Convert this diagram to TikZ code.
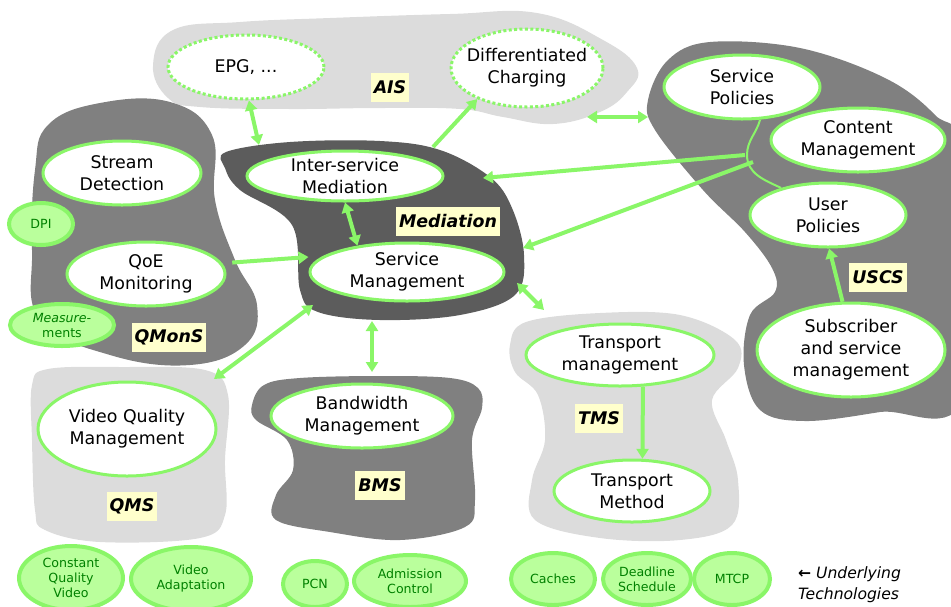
\documentclass[tikz,border=0pt]{standalone}
\usepackage{fontspec}
\setmainfont{DejaVu Sans}
\usetikzlibrary{arrows.meta,shapes.geometric}
\definecolor{lime}{RGB}{138,246,104}
\definecolor{limefill}{RGB}{186,255,156}
\definecolor{limetext}{RGB}{0,128,0}
\definecolor{grlight}{RGB}{220,220,220}
\definecolor{grmid}{RGB}{128,128,128}
\definecolor{grdark}{RGB}{92,92,92}
\definecolor{tagbg}{RGB}{255,255,204}

\begin{document}
\begin{tikzpicture}[x=0.5pt,y=-0.5pt,>={Triangle[length=5pt,width=6pt]},
  every node/.style={font=\fontsize{8.7}{11}\selectfont,align=center},
  fn/.style={ellipse,draw=lime,line width=1.5pt,fill=white,inner sep=-4pt},
  dt/.style={fn,dash pattern=on 1.5pt off 1.2pt},
  tc/.style={ellipse,draw=lime,line width=2pt,fill=limefill,inner sep=-4pt,
    text=limetext,font=\fontsize{6.3}{7.5}\selectfont},
  tg/.style={fill=tagbg,inner xsep=1.5pt,minimum height=14.5pt,
    font=\fontsize{8.7}{11}\selectfont\bfseries\itshape},
  ar/.style={draw=lime,line width=2pt,->},
  bi/.style={ar,<->},
  ln/.style={draw=lime,line width=1pt}]
\useasboundingbox (0,0) rectangle (951,606);
\clip (0,0) rectangle (951,606);

% subsystem areas
\fill[grlight] plot[smooth cycle,tension=0.7] coordinates {(153,65) (173,30)
  (240,22) (330,18) (450,14) (537,13) (603,40) (637,68) (627,92) (600,112)
  (553,124) (503,117) (460,109) (380,108) (290,109) (200,107) (168,98)};
\fill[grmid] plot[smooth cycle,tension=0.7] coordinates {(35,170) (48,125)
  (100,103) (170,102) (212,135) (215,200) (235,260) (257,305) (245,345)
  (190,365) (110,355) (40,320) (32,250)};
\fill[grdark] plot[smooth cycle,tension=0.6] coordinates {(226,152) (290,142)
  (380,141) (440,150) (490,177) (512,208) (524,255) (515,295) (460,315)
  (380,320) (318,312) (300,290) (292,225) (240,190) (225,168)};
\fill[grmid] plot[smooth cycle,tension=0.6] coordinates {(648,100) (668,60)
  (710,42) (800,48) (885,78) (935,115) (965,160) (965,396) (880,412)
  (805,421) (760,410) (744,365) (750,315) (775,292) (772,268) (745,232)
  (703,190) (655,130)};
\fill[grmid] plot[smooth cycle,tension=0.6] coordinates {(252,405) (264,385)
  (300,378) (380,376) (450,378) (478,388) (482,408) (472,440) (475,500)
  (465,527) (400,540) (330,532) (276,520) (276,495) (293,470) (287,440)
  (256,420)};
\fill[grlight] plot[smooth cycle,tension=0.6] coordinates {(32,385) (48,369)
  (120,367) (205,370) (228,395) (225,460) (225,515) (200,538) (100,542)
  (45,530) (35,510) (32,440)};
\fill[grlight] plot[smooth cycle,tension=0.6] coordinates {(510,345) (526,322)
  (600,313) (680,315) (735,340) (738,368) (712,400) (726,440) (738,480)
  (732,525) (680,540) (600,538) (535,520) (532,480) (545,440) (538,395)
  (515,372)};

% functions
\node[dt,minimum width=78pt,minimum height=32pt] (epg) at (246,67) {EPG, ...};
\node[dt,minimum width=76pt,minimum height=39pt] (dc) at (527,68)
  {Differentiated\\Charging};
\node[fn,minimum width=79pt,minimum height=32pt] (sd) at (122,173)
  {Stream\\Detection};
\node[fn,minimum width=79pt,minimum height=32pt] (qoe) at (146,274)
  {QoE\\Monitoring};
\node[fn,minimum width=98pt,minimum height=25pt] (ism) at (345,176)
  {Inter-service\\Mediation};
\node[fn,minimum width=97pt,minimum height=29pt] (sm) at (407,272)
  {Service\\Management};
\node[fn,minimum width=78pt,minimum height=32pt] (sp) at (742,87)
  {Service\\Policies};
\node[fn,minimum width=87pt,minimum height=32pt] (cm) at (858,140)
  {Content\\Management};
\node[fn,minimum width=78pt,minimum height=32pt] (up) at (828,215)
  {User\\Policies};
\node[fn,minimum width=94pt,minimum height=47pt] (ssm) at (851,350)
  {Subscriber\\and service\\management};
\node[fn,minimum width=94pt,minimum height=31pt] (tm) at (620,355)
  {Transport\\management};
\node[fn,minimum width=78pt,minimum height=31pt] (tme) at (632,491)
  {Transport\\Method};
\node[fn,minimum width=91pt,minimum height=32pt] (bm) at (362,416)
  {Bandwidth\\Management};
\node[fn,minimum width=89pt,minimum height=47pt] (vqm) at (127,429)
  {Video Quality\\Management};

% subsystem tags
\node[tg] (ais) at (390,87) {AIS};
\node[tg] (med) at (448,221) {Mediation};
\node[tg] (qmons) at (169,337) {QMonS};
\node[tg] (uscs) at (878,277) {USCS};
\node[tg] (qms) at (132,506) {QMS};
\node[tg] (bms) at (380,485) {BMS};
\node[tg] (tms) at (599,418) {TMS};

% technologies
\node[tc,minimum width=32pt,minimum height=21pt] (dpi) at (41,224) {DPI};
\node[tc,minimum width=52pt,minimum height=21pt] (meas) at (62,325)
  {\itshape Measure-\\ments};
\node[tc,minimum width=52pt,minimum height=32pt] (cqv) at (71,578)
  {Constant\\Quality\\Video};
\node[tc,minimum width=60pt,minimum height=32pt] (va) at (191,579)
  {Video\\Adaptation};
\node[tc,minimum width=32pt,minimum height=23pt] (pcn) at (315,584) {PCN};
\node[tc,minimum width=56pt,minimum height=26pt] (ac) at (410,581)
  {Admission\\Control};
\node[tc,minimum width=42pt,minimum height=26pt] (cach) at (553,579) {Caches};
\node[tc,minimum width=44pt,minimum height=26pt] (ds) at (647,579)
  {Deadline\\Schedule};
\node[tc,minimum width=38pt,minimum height=26pt] (mtcp) at (732,579) {MTCP};
\node[anchor=west,align=left,font=\fontsize{7.8}{10.5}\selectfont\itshape]
  (ut) at (791,585) {\textbf{←} Underlying\\Technologies};

% area edges
\coordinate (medN) at (259,145);
\coordinate (medNE) at (433,147);
\coordinate (medE1) at (483,178);
\coordinate (medE2) at (523,248);
\coordinate (medSE) at (517,283);
\coordinate (medSW) at (313,305);
\coordinate (medS) at (372,321);
\coordinate (aisE) at (587,117);
\coordinate (uscsW) at (648,117);
\coordinate (tmsN) at (544,310);
\coordinate (qmsN) at (214,379);
\coordinate (bmsN) at (372,372);
\coordinate (jn) at (747,155);
\coordinate (jnA) at (745,155);
\coordinate (jnB) at (753,162);

\draw[bi] (epg.-85) -- (medN);
\draw[ar] (medNE) -- (dc.-148);
\draw[ar,shorten <=5pt] (qoe.8) -- (sm.west |- 0,257);
\draw[bi] (ism.south) -- (sm.152);
\draw[bi] (aisE) -- (uscsW);
\draw[ln] (sp.-61) to[out=-105,in=90] (jn) to[out=-90,in=155] (up.150);
\draw[ar] (jnA) -- (medE1);
\draw[ar] (jnB) -- (medE2);
\draw[bi] (medSE) -- (tmsN);
\draw[bi] (medSW) -- (qmsN);
\draw[bi] (medS) -- (bmsN);
\draw[ar] (ssm.100) -- (up.-88);
\draw[ar] (tm.-54) -- (tme.72);
\end{tikzpicture}
\end{document}
